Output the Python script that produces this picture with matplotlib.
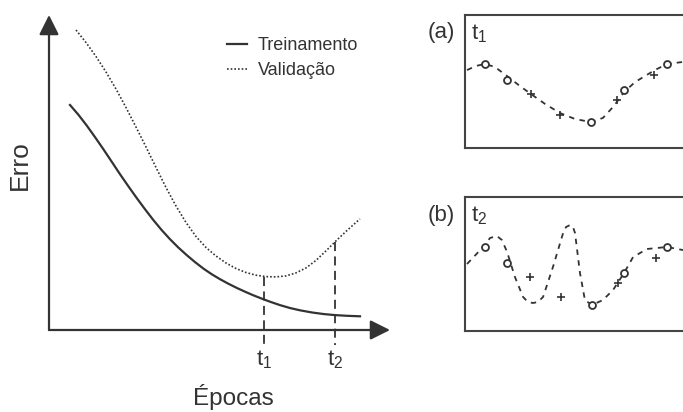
import numpy as np
import matplotlib.pyplot as plt

plt.rcParams['font.family'] = ['Liberation Sans', 'DejaVu Sans']
plt.rcParams['mathtext.fontset'] = 'custom'
plt.rcParams['mathtext.rm'] = 'Liberation Sans'
plt.rcParams['mathtext.it'] = 'Liberation Sans'

# main chart: error curves vs epochs
train_x = [0.616, 0.859, 1.106, 1.349, 1.592, 1.839, 2.082, 2.326, 2.572, 2.815, 3.059,
           3.305, 3.548, 3.792, 4.038, 4.282, 4.525, 4.771, 5.015, 5.258, 5.504, 5.748,
           5.991, 6.238, 6.481, 6.774, 7.067, 7.361, 7.713, 8.065, 8.387, 8.739, 9.120]
train_y = [7.143, 6.838, 6.492, 6.124, 5.743, 5.343, 4.946, 4.565, 4.190, 3.835, 3.492,
           3.171, 2.883, 2.619, 2.378, 2.156, 1.952, 1.771, 1.613, 1.470, 1.337, 1.216,
           1.102, 0.997, 0.898, 0.790, 0.698, 0.625, 0.556, 0.505, 0.473, 0.451, 0.435]
val_x = [0.792, 1.085, 1.378, 1.672, 1.965, 2.258, 2.551, 2.845, 3.138, 3.431, 3.724,
         4.018, 4.311, 4.604, 4.897, 5.191, 5.484, 5.777, 6.070, 6.364, 6.657, 6.950,
         7.243, 7.537, 7.830, 8.123, 8.416, 8.710, 9.003, 9.120]
val_y = [9.524, 9.127, 8.683, 8.190, 7.651, 7.063, 6.444, 5.810, 5.159, 4.524, 3.937,
         3.413, 2.968, 2.619, 2.349, 2.127, 1.952, 1.825, 1.740, 1.695, 1.686, 1.717,
         1.813, 1.971, 2.210, 2.511, 2.829, 3.130, 3.416, 3.524]
t_pos = [6.30, 8.39]
t_top = [1.69, 2.80]
t_labels = ['t$_\\mathregular{1}$', 't$_\\mathregular{2}$']

# inset (a): fit at t1
a_curve_x = [0.09, 0.49, 0.89, 1.33, 1.87, 2.44, 2.93, 3.56, 4.22, 4.89, 5.60, 6.13, 6.62,
             7.07, 7.56, 8.00, 8.44, 8.98, 9.69]
a_curve_y = [5.86, 6.17, 6.32, 6.09, 5.41, 4.66, 4.06, 3.31, 2.63, 2.18, 1.95, 2.26, 3.16,
             4.21, 4.96, 5.41, 5.86, 6.32, 6.47]
a_circ_x = [0.89, 1.87, 5.60, 7.07, 8.98]
a_circ_y = [6.32, 5.11, 1.95, 4.36, 6.32]
a_plus_x = [2.93, 4.22, 6.76, 8.40]
a_plus_y = [4.06, 2.48, 3.61, 5.49]

# inset (b): fit at t2
b_curve_x = [0.09, 0.89, 1.11, 1.42, 1.64, 1.87, 2.22, 2.58, 2.80, 3.02, 3.24, 3.47, 3.91,
             4.36, 4.49, 4.67, 4.80, 4.89, 5.11, 5.33, 5.64, 6.13, 6.58, 7.07, 7.47, 8.09,
             8.98, 9.69]
b_curve_y = [5.00, 6.42, 6.94, 7.09, 6.79, 5.90, 4.03, 2.54, 2.16, 2.09, 2.16, 2.54, 4.78,
             7.31, 7.76, 7.91, 7.76, 7.31, 4.33, 2.31, 1.94, 2.31, 3.06, 4.33, 5.52, 6.12,
             6.27, 6.04]
b_circ_x = [0.89, 1.87, 5.64, 7.07, 8.98]
b_circ_y = [6.27, 5.07, 1.94, 4.33, 6.27]
b_plus_x = [2.89, 4.27, 6.80, 8.49]
b_plus_y = [4.03, 2.54, 3.58, 5.45]

ink = '#333333'

fig = plt.figure(figsize=(6.83, 4.12), dpi=100)

ax = fig.add_axes([49/683, 82/412, 341/683, 315/412])
ax.set_xlim(0, 10)
ax.set_ylim(0, 10)
ax.axis('off')

arrow = dict(arrowstyle='-|>,head_length=0.6,head_width=0.3', color=ink, lw=1.6,
             mutation_scale=20, shrinkA=0, shrinkB=0)
ax.annotate('', xy=(0, 10), xytext=(0, 0), arrowprops=arrow, annotation_clip=False)
ax.annotate('', xy=(10, 0), xytext=(0, 0), arrowprops=arrow, annotation_clip=False)

ax.plot(train_x, train_y, color=ink, lw=1.6, label='Treinamento')
ax.plot(val_x, val_y, color=ink, lw=1.2, ls=(0, (1, 1.2)), label='Validação')

for x, top, lab in zip(t_pos, t_top, t_labels):
    ax.plot([x, x], [top, -0.48], color=ink, lw=1.3, ls=(0, (5, 3)), clip_on=False)
    ax.text(x, -0.95, lab, ha='center', va='center', fontsize=16, color=ink)

ax.text(-0.085, 0.524, 'Erro', transform=ax.transAxes, rotation=90,
        ha='center', va='center', fontsize=19, color=ink)
ax.text(0.54, -0.213, 'Épocas', transform=ax.transAxes,
        ha='center', va='center', fontsize=17.5, color=ink)

ax.legend(loc='upper left', bbox_to_anchor=(0.522, 0.93), frameon=False,
          fontsize=13, handlelength=1.1, handletextpad=0.6, labelspacing=0.45,
          borderpad=0, borderaxespad=0, labelcolor=ink)

def inset(rect, cx, cy, ox, oy, px, py, tag, tlab):
    a = fig.add_axes(rect)
    a.set_xlim(0, 10)
    a.set_ylim(0, 10)
    a.set_xticks([])
    a.set_yticks([])
    for s in a.spines.values():
        s.set_color('#444444')
        s.set_linewidth(1.5)
    a.plot(cx, cy, color=ink, lw=1.3, ls=(0, (3, 3)))
    a.plot(ox, oy, 'o', ms=5, mfc='white', mec=ink, mew=1.3)
    a.plot(px, py, '+', ms=6, color=ink, mew=1.2)
    a.text(-0.045, 0.865, tag, transform=a.transAxes, ha='right', va='center',
           fontsize=16, color=ink)
    a.text(0.025, 0.86, tlab, transform=a.transAxes, ha='left', va='center',
           fontsize=16, color=ink)
    return a

inset([465/683, 264/412, 225/683, 133/412], a_curve_x, a_curve_y, a_circ_x, a_circ_y,
      a_plus_x, a_plus_y, '(a)', t_labels[0])
inset([465/683, 81/412, 225/683, 134/412], b_curve_x, b_curve_y, b_circ_x, b_circ_y,
      b_plus_x, b_plus_y, '(b)', t_labels[1])

fig.savefig('out.png', dpi=100)
